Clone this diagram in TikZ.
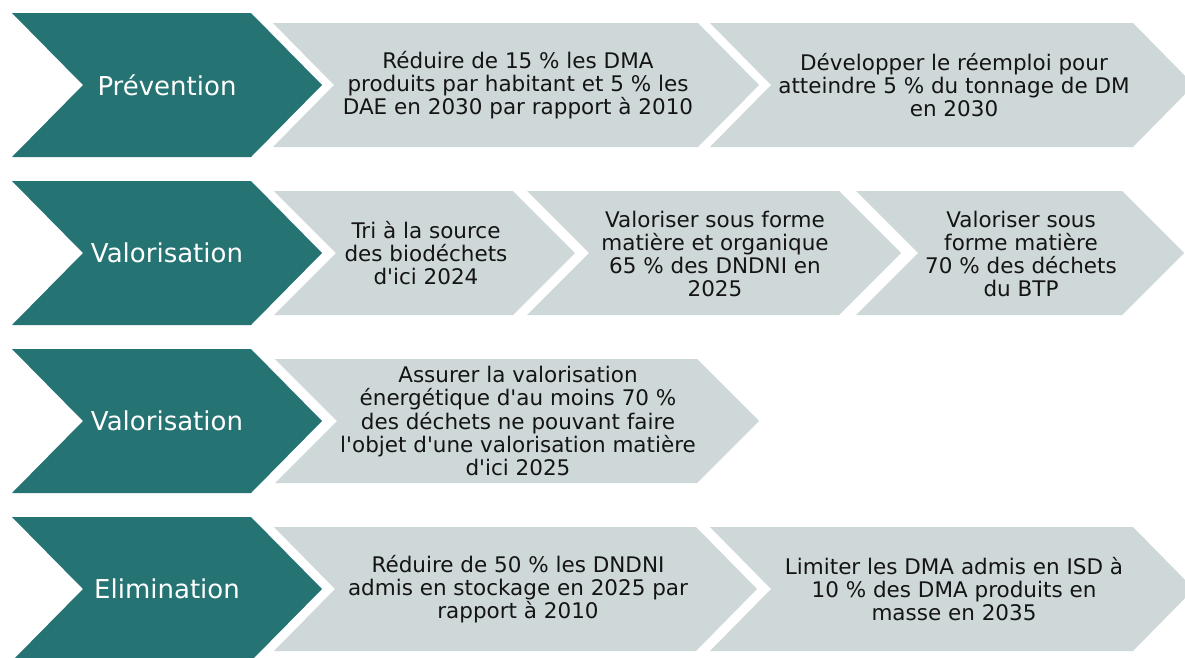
\documentclass[tikz,border=0pt]{standalone}
\usepackage{fontspec}
\setmainfont{DejaVu Sans}[Ligatures=TeXOff]
\definecolor{tealc}{RGB}{38,115,115}
\definecolor{greyc}{RGB}{207,216,216}
\definecolor{txtc}{RGB}{20,20,20}
% x1, x2, ytop, ybottom, tip depth, style
\newcommand{\chevshape}[6]{%
  \fill[#6] (#1,#3) -- (#2,#3) -- ({#2+#5},{(#3+#4)/2}) -- (#2,#4) -- (#1,#4) -- ({#1+#5},{(#3+#4)/2}) -- cycle;}
\begin{document}
\begin{tikzpicture}[x=1pt,y=-1pt,
  phase/.style={fill=tealc},
  goal/.style={fill=greyc},
  phasetext/.style={text=white,font=\fontsize{26}{30}\selectfont,inner sep=0pt},
  goaltext/.style={text=txtc,align=center,font=\fontsize{21.5}{23.2}\selectfont,inner sep=0pt}]
\useasboundingbox (0,0) rectangle (1185,657);
\clip (0,0) rectangle (1185,657);
\fill[white] (0,0) rectangle (1185,657);
% Row 1
\chevshape{12}{251}{13}{157}{71}{phase}
\chevshape{273}{698}{23}{147}{61}{goal}
\chevshape{710}{1133}{23}{147}{61}{goal}
% Row 2
\chevshape{12}{251}{181}{325}{71}{phase}
\chevshape{274}{513}{191}{315}{62}{goal}
\chevshape{527}{839}{191}{315}{62}{goal}
\chevshape{856}{1122}{191}{315}{62}{goal}
% Row 3
\chevshape{12}{251}{349}{493}{71}{phase}
\chevshape{275}{697}{359}{483}{62}{goal}
% Row 4
\chevshape{12}{251}{517}{661}{71}{phase}
\chevshape{274}{696}{527}{651}{61}{goal}
\chevshape{710}{1133}{527}{651}{61}{goal}
% Texts
\node[phasetext] (p1) at (167,85) {Prévention};
\node[goaltext] (g11) at (518,85) {Réduire de 15 \% les DMA\\produits par habitant et 5 \% les\\DAE en 2030 par rapport à 2010};
\node[goaltext] (g12) at (954,85) {Développer le réemploi pour\\atteindre 5 \% du tonnage de DM\\en 2030};
\node[phasetext] (p2) at (167,253) {Valorisation};
\node[goaltext] (g21) at (426,253) {Tri à la source\\des biodéchets\\d'ici 2024};
\node[goaltext] (g22) at (715,254) {Valoriser sous forme\\matière et organique\\65 \% des DNDNI en\\2025};
\node[goaltext] (g23) at (1021,254) {Valoriser sous\\forme matière\\70 \% des déchets\\du BTP};
\node[phasetext] (p3) at (167,421) {Valorisation};
\node[goaltext] (g31) at (518,421) {Assurer la valorisation\\énergétique d'au moins 70 \%\\des déchets ne pouvant faire\\l'objet d'une valorisation matière\\d'ici 2025};
\node[phasetext] (p4) at (167,589) {Elimination};
\node[goaltext] (g41) at (518,589) {Réduire de 50 \% les DNDNI\\admis en stockage en 2025 par\\rapport à 2010};
\node[goaltext] (g42) at (954,589) {Limiter les DMA admis en ISD à\\10 \% des DMA produits en\\masse en 2035};
\end{tikzpicture}
\end{document}
